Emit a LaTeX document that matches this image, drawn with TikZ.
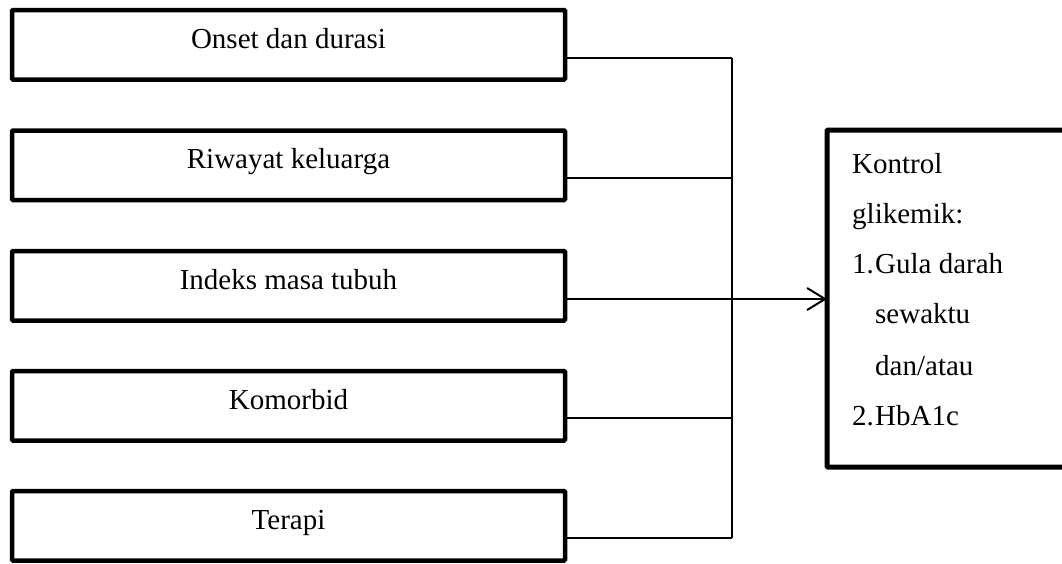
\documentclass[tikz,border=0pt]{standalone}
\usepackage{fontspec}
\setmainfont{Liberation Serif}
\usetikzlibrary{arrows.meta}
\begin{document}
\begin{tikzpicture}[x=1pt,y=-1pt,
  factor/.style={draw, line width=4.5pt, minimum width=553pt, minimum height=69.5pt,
    inner sep=0pt, outer sep=0pt, rounded corners=1pt, anchor=north west},
  outcome/.style={draw, line width=5pt, minimum width=270pt, minimum height=337pt,
    inner sep=0pt, outer sep=0pt, rounded corners=1pt, anchor=north west},
  lbl/.style={anchor=base, inner sep=0pt, font=\fontsize{29}{34}\selectfont},
  itemtxt/.style={anchor=base west, inner sep=0pt, font=\fontsize{29}{34}\selectfont},
  link/.style={line width=2pt},
  arrowlink/.style={line width=2pt, -{Straight Barb[length=18pt,width=22pt]}}]
\useasboundingbox (0,0) rectangle (1062,563);
\clip (0,0) rectangle (1062,563);

% factor boxes
\node[factor] (b1) at (12,10)  {};
\node[factor] (b2) at (12,130.5) {};
\node[factor] (b3) at (12,251) {};
\node[factor] (b4) at (12,371) {};
\node[factor] (b5) at (12,491) {};

\node[lbl] (t1) at ([yshift=-38pt]b1.north) {Onset dan durasi};
\node[lbl] (t2) at ([yshift=-38pt]b2.north) {Riwayat keluarga};
\node[lbl] (t3) at ([yshift=-38pt]b3.north) {Indeks masa tubuh};
\node[lbl] (t4) at ([yshift=-38pt]b4.north) {Komorbid};
\node[lbl] (t5) at ([yshift=-38pt]b5.north) {Terapi};

% outcome box
\node[outcome] (res) at (827,130) {};
\node[itemtxt] (r1) at (852,173) {Kontrol};
\node[itemtxt] (r2) at (852,223) {glikemik:};
\node[itemtxt] (r3n) at (852,273) {1.};
\node[itemtxt] (r3) at (875,273) {Gula darah};
\node[itemtxt] (r4) at (875,323) {sewaktu};
\node[itemtxt] (r5) at (875,375) {dan/atau};
\node[itemtxt] (r6n) at (852,425) {2.};
\node[itemtxt] (r6) at (875,425) {HbA1c};

% collector bar
\coordinate (j1) at (732,58);
\coordinate (j2) at (732,178);
\coordinate (j3) at (732,299);
\coordinate (j4) at (732,418);
\coordinate (j5) at (732,538);

\draw[link] (b1.east |- j1) -- (j1);
\draw[link] (b2.east |- j2) -- (j2);
\draw[link] (b4.east |- j4) -- (j4);
\draw[link] (b5.east |- j5) -- (j5);
\draw[link] (j1) -- (j5);
\draw[arrowlink] (b3.east |- j3) -- (res.west |- j3);
\end{tikzpicture}
\end{document}
